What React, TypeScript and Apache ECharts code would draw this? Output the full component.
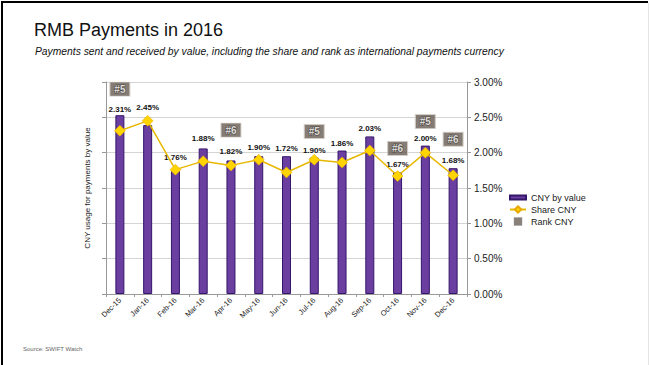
import React, { useEffect, useRef } from "react";
import * as echarts from "echarts";

// ---- data ----
const months = ["Dec-15", "Jan-16", "Feb-16", "Mar-16", "Apr-16", "May-16", "Jun-16", "Jul-16", "Aug-16", "Sep-16", "Oct-16", "Nov-16", "Dec-16"];
const cnyByValue = [2.53, 2.39, 1.74, 2.06, 1.89, 1.95, 1.95, 1.93, 2.03, 2.23, 1.72, 2.1, 1.78];
const shareCny = [2.31, 2.45, 1.76, 1.88, 1.82, 1.9, 1.72, 1.9, 1.86, 2.03, 1.67, 2.0, 1.68];
const rankMonths = ["Dec-15", "Apr-16", "Jul-16", "Oct-16", "Nov-16", "Dec-16"];
const rankCny = [5, 6, 5, 6, 5, 6];
const rankBoxLevel = [2.9, 2.32, 2.3, 2.06, 2.44, 2.19];
const rightTicks = [0, 0.5, 1, 1.5, 2, 2.5, 3];

const FONT = "'Liberation Sans', Arial, sans-serif";
// label lift tweaks (layout only)
const labelDistance: Record<number, number> = { 0: 2, 1: 14, 2: 10, 3: 6, 4: 5, 5: 5 };

export default function App() {
  const ref = useRef<HTMLDivElement>(null);
  useEffect(() => {
    if (!ref.current) return;
    const chart = echarts.init(ref.current, undefined, { renderer: "svg" });
    const option: any = {
      animation: false,
      backgroundColor: "#ffffff",
      textStyle: { fontFamily: FONT },
      title: [
        {
          text: "RMB Payments in 2016",
          left: 29,
          top: 16,
          textStyle: { fontFamily: FONT, fontSize: 18, fontWeight: "normal", color: "#111" },
        },
        {
          text: "Payments sent and received by value, including the share and rank as international payments currency",
          left: 30,
          top: 41,
          textStyle: { fontFamily: FONT, fontSize: 10.3, fontStyle: "italic", fontWeight: "normal", color: "#111" },
        },
        {
          text: "Source: SWIFT Watch",
          left: 18,
          top: 341,
          textStyle: { fontFamily: FONT, fontSize: 6, fontWeight: "normal", color: "#666" },
        },
      ],
      graphic: [
        { type: "rect", shape: { x: 1, y: 1, width: 2, height: 364 }, style: { fill: "#000" } },
        { type: "rect", shape: { x: 1, y: 1, width: 647, height: 2 }, style: { fill: "#000" } },
        { type: "rect", shape: { x: 648, y: 3, width: 1, height: 362 }, style: { fill: "#e4e4e4" } },
      ],
      legend: {
        orient: "vertical",
        left: 504,
        top: 188,
        itemWidth: 16,
        itemHeight: 8,
        itemGap: 3,
        textStyle: { fontFamily: FONT, fontSize: 9, color: "#222" },
        data: [
          { name: "CNY by value", icon: "path://M0,0h16v4h-16z" },
          { name: "Share CNY" },
          { name: "Rank CNY", icon: "path://M5,1h6v6h-6z", itemStyle: { color: "#6B6058", borderColor: "#999", borderWidth: 0.5 } },
        ],
      },
      grid: { left: 106, right: 183, top: 82, bottom: 71 },
      xAxis: {
        type: "category",
        data: months,
        axisLine: { show: true, lineStyle: { color: "#999", width: 1 } },
        axisTick: { show: true, length: 3, lineStyle: { color: "#999" } },
        axisLabel: { rotate: 45, fontSize: 7.5, color: "#222", margin: 5, fontFamily: FONT },
      },
      yAxis: [
        {
          type: "value",
          min: 0,
          max: 3,
          interval: 0.5,
          position: "left",
          name: "CNY usage for payments by value",
          nameLocation: "middle",
          nameRotate: 90,
          nameGap: 15,
          nameTextStyle: { fontFamily: FONT, fontSize: 8, color: "#222" },
          axisLine: { show: true, lineStyle: { color: "#999" } },
          axisTick: { show: true, length: 4, lineStyle: { color: "#999" } },
          axisLabel: { show: false },
          splitLine: { show: true, lineStyle: { color: "#d4d4d4", width: 1 } },
        },
        {
          type: "value",
          min: 0,
          max: 3,
          interval: 0.5,
          position: "right",
          axisLine: { show: true, lineStyle: { color: "#999" } },
          axisTick: { show: true, length: 4, lineStyle: { color: "#999" } },
          axisLabel: {
            fontFamily: FONT,
            fontSize: 10,
            color: "#222",
            margin: 7,
            formatter: (v: number) => (rightTicks.includes(v) ? v.toFixed(2) + "%" : ""),
          },
          splitLine: { show: false },
        },
      ],
      series: [
        {
          name: "CNY by value",
          type: "bar",
          yAxisIndex: 0,
          barWidth: 9,
          itemStyle: { color: "#6B3FA0", borderColor: "#34166B", borderWidth: 1 },
          data: cnyByValue.map((v, i) => ({
            value: v,
            label: { distance: labelDistance[i] ?? 3.5 },
          })),
          label: {
            show: true,
            position: "top",
            fontFamily: FONT,
            fontSize: 8,
            fontWeight: "bold",
            color: "#111",
            formatter: (p: any) => shareCny[p.dataIndex].toFixed(2) + "%",
          },
          z: 2,
        },
        {
          name: "Share CNY",
          type: "line",
          yAxisIndex: 1,
          data: shareCny,
          symbol: "diamond",
          symbolSize: 11,
          lineStyle: { color: "#E8B800", width: 1.5 },
          itemStyle: { color: "#FFD400", borderColor: "#E8A800", borderWidth: 0.5 },
          z: 3,
        },
        {
          name: "Rank CNY",
          type: "scatter",
          yAxisIndex: 1,
          symbol: "rect",
          symbolSize: [20, 14],
          itemStyle: { color: "#665B53", borderColor: "#D6CFC8", borderWidth: 1 },
          data: rankMonths.map((m, i) => ({ value: [m, rankBoxLevel[i]], rank: rankCny[i] })),
          label: {
            show: true,
            position: "inside",
            fontFamily: FONT,
            fontSize: 10,
            fontWeight: "bold",
            color: "#fff",
            textBorderColor: "#3a3530",
            textBorderWidth: 1,
            formatter: (p: any) => "#" + rankCny[p.dataIndex],
          },
          z: 4,
        },
      ],
    };
    chart.setOption(option);
    return () => chart.dispose();
  }, []);
  return (
    <div
      ref={ref}
      style={{ position: "fixed", left: 0, top: 0, width: 650, height: 365 }}
    />
  );
}
